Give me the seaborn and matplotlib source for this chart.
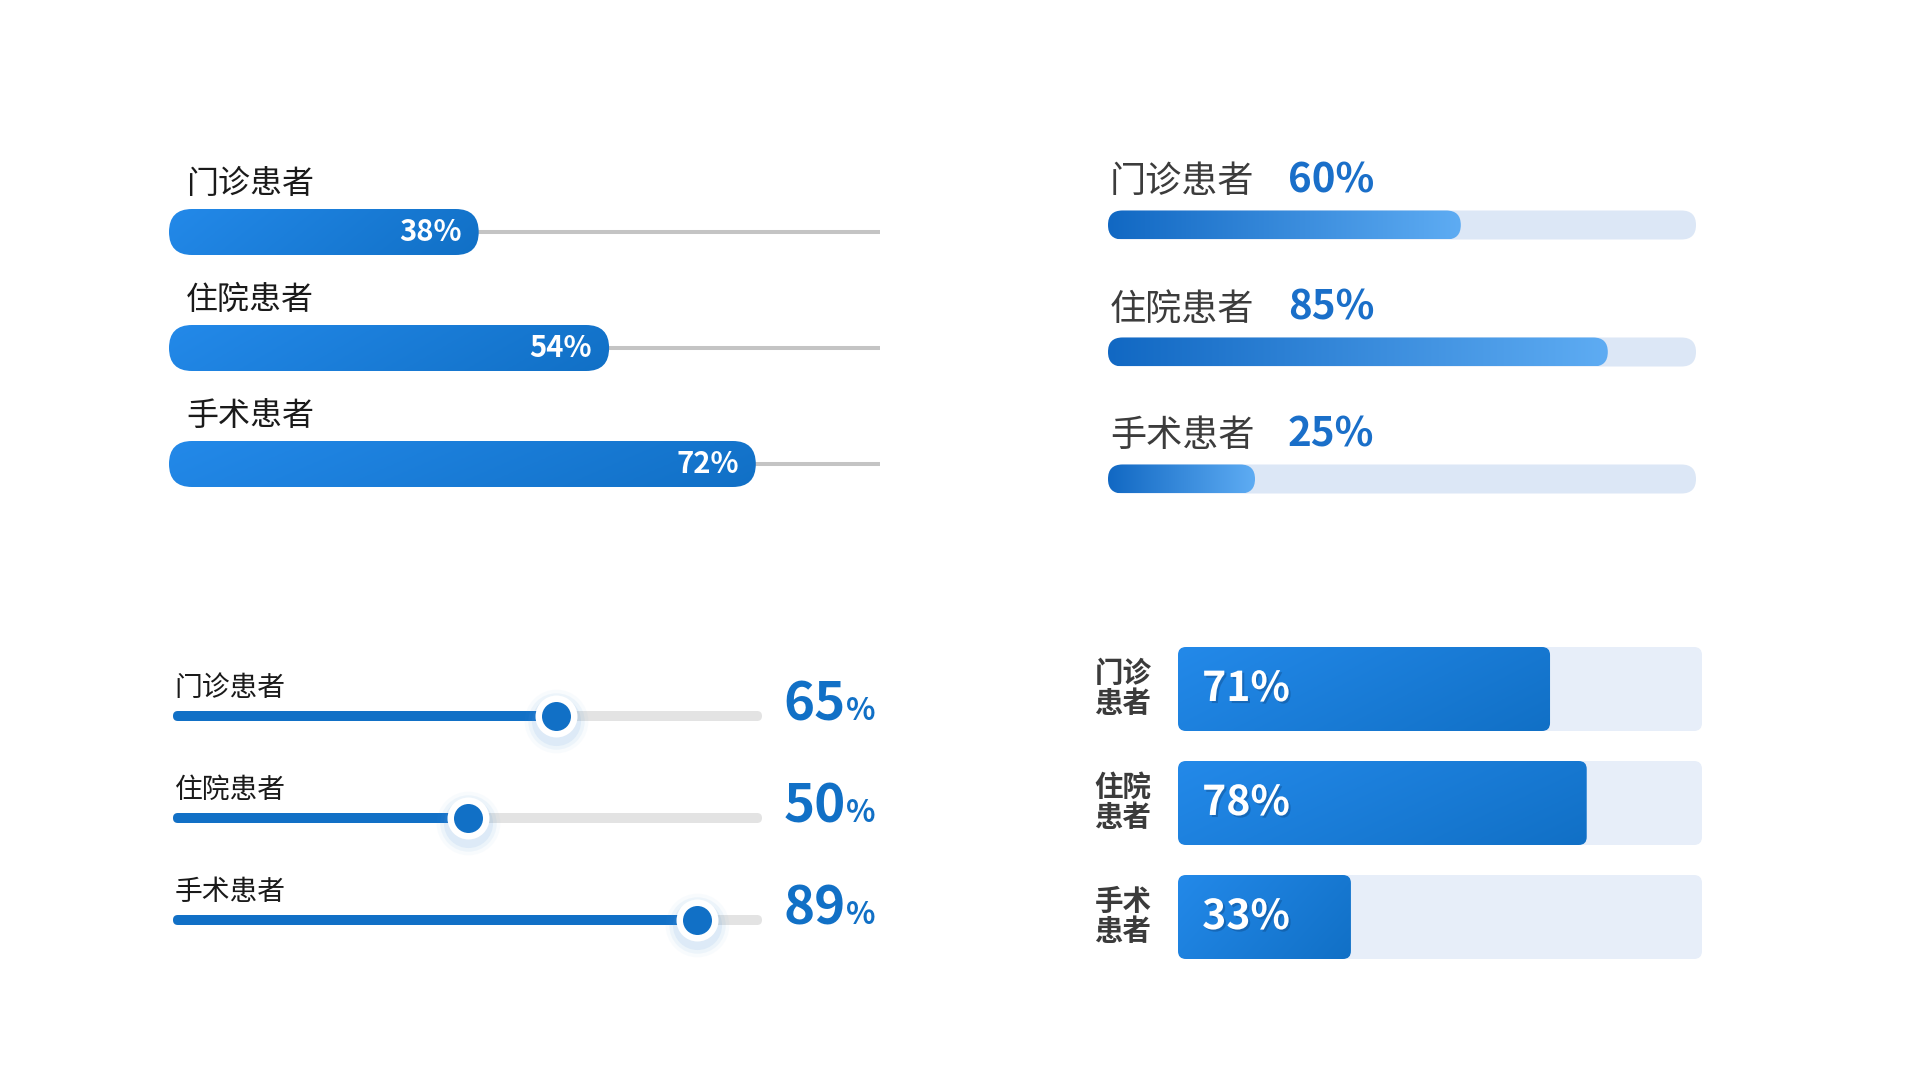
import numpy as np
import matplotlib
matplotlib.use('Agg')
from matplotlib import pyplot as plt
from matplotlib.patches import FancyBboxPatch
from matplotlib.colors import LinearSegmentedColormap
from matplotlib import patheffects as pe
import seaborn as sns

# data
categories = ['门诊患者', '住院患者', '手术患者']
short_labels = ['门诊\n患者', '住院\n患者', '手术\n患者']
p1_values = [38, 54, 72]
p2_values = [60, 85, 25]
p3_values = [65, 50, 89]
p4_values = [71, 78, 33]

sns.set_theme(style='white')
plt.rcParams['font.family'] = ['Noto Sans CJK SC', 'DejaVu Sans']

FW, FH = 1920, 1080
fig = plt.figure(figsize=(19.2, 10.8), dpi=100, facecolor='white')

cmap_a = LinearSegmentedColormap.from_list('a', ['#2389e9', '#1170c6'])
cmap_b = LinearSegmentedColormap.from_list('b', ['#1168c3', '#5eacf3'])


def panel_axes(x0, width, y_first, gap):
    # axes so that rows sit `gap` px apart, x from 0 to 100 %
    top = y_first - gap / 2
    height = 3 * gap
    ax = fig.add_axes([x0 / FW, 1 - (top + height) / FH, width / FW, height / FH])
    return ax, width / 100, gap


def draw_bars(ax, values, thick, **kw):
    before = list(ax.patches)
    sns.barplot(x=values, y=categories, orient='h', width=thick,
                errorbar=None, ax=ax, **kw)
    return [p for p in ax.patches if p not in before]


def round_it(ax, rect, r_px, px_x, px_y, color=None, cmap=None, diag=0.0, z=1):
    x, y, w, h = rect.get_x(), rect.get_y(), rect.get_width(), rect.get_height()
    rect.remove()
    patch = FancyBboxPatch((x, y), w, h,
                           boxstyle=f'round,pad=0,rounding_size={r_px / px_x}',
                           mutation_aspect=px_x / px_y,
                           fc=color if color else 'none', ec='none', zorder=z)
    ax.add_patch(patch)
    if cmap is not None:
        gx = np.linspace(0, 1, 256)[None, :]
        gy = np.linspace(0, 1, 32)[:, None]
        grad = (1 - diag) * gx + diag * gy
        im = ax.imshow(grad, extent=(x, x + w, y + h, y), cmap=cmap, vmin=0, vmax=1,
                       aspect='auto', interpolation='bilinear', zorder=z)
        im.set_clip_path(patch)
    return patch


def finish(ax):
    ax.set_xlim(0, 100)
    ax.set_ylim(2.5, -0.5)
    ax.axis('off')


# panel 1 - top left, pill bars with thin track
ax1, px_x, px_y = panel_axes(169, 815, 232, 116)
ax1.hlines(range(3), 0, 87.2, color='#c4c4c4', lw=2.9, zorder=0.5)
for rect in draw_bars(ax1, p1_values, 46 / 116, color='#1a7bd6'):
    round_it(ax1, rect, 23, px_x, px_y, cmap=cmap_a, diag=0.15)
for i, (lab, v) in enumerate(zip(categories, p1_values)):
    ax1.text(2.1, i - 0.415, lab, fontsize=23, color='#1a1a1a', va='center', ha='left')
    ax1.text(v - 2.1, i, f'{v}%', fontsize=21, fontweight='bold', color='white',
             va='center', ha='right', zorder=5)
finish(ax1)

# panel 2 - top right, light track with gradient fill
ax2, px_x, px_y = panel_axes(1108, 588, 225, 127)
for rect in draw_bars(ax2, [100] * 3, 29 / 127, color='#dce7f6'):
    round_it(ax2, rect, 14.5, px_x, px_y, color='#dce7f6', z=0.8)
for rect in draw_bars(ax2, p2_values, 29 / 127, color='#1a7bd6'):
    round_it(ax2, rect, 14.5, px_x, px_y, cmap=cmap_b)
for i, (lab, v) in enumerate(zip(categories, p2_values)):
    ax2.text(0.3, i - 0.335, lab, fontsize=26, color='#3c3c3c', va='center', ha='left')
    ax2.text(30.6, i - 0.345, f'{v}%', fontsize=29, fontweight='bold', color='#1a6fc9',
             va='center', ha='left')
finish(ax2)

# panel 3 - bottom left, sliders
ax3, px_x, px_y = panel_axes(173, 589, 716, 102)
for rect in draw_bars(ax3, [100] * 3, 10 / 102, color='#e3e3e3'):
    round_it(ax3, rect, 5, px_x, px_y, color='#e3e3e3', z=0.8)
for rect in draw_bars(ax3, p3_values, 10 / 102, color='#1170c6'):
    round_it(ax3, rect, 5, px_x, px_y, color='#1170c6')
ys = np.arange(3)
for s, a in [(2100, 0.04), (1650, 0.07), (1250, 0.10)]:
    ax3.scatter(p3_values, ys + 0.05, s=s, color='#5a9be0', alpha=a, lw=0, zorder=3)
ax3.scatter(p3_values, ys, s=914, color='white', lw=0, zorder=4)
ax3.scatter(p3_values, ys, s=436, color='#1170c6', lw=0, zorder=5)
for i, (lab, v) in enumerate(zip(categories, p3_values)):
    ax3.text(0.3, i - 0.275, lab, fontsize=20, color='#1a1a1a', va='center', ha='left')
    t = ax3.text(103.7, i - 0.11, f'{v}', fontsize=38, fontweight='bold',
                 color='#1170c6', va='center', ha='left')
    ax3.annotate('%', xy=(1, 0.08), xycoords=t, fontsize=22, fontweight='bold',
                 color='#1170c6', va='bottom', ha='left')
finish(ax3)

# panel 4 - bottom right, blocks
ax4, px_x, px_y = panel_axes(1178, 524, 689, 114)
for rect in draw_bars(ax4, [100] * 3, 84 / 114, color='#e7eef9'):
    round_it(ax4, rect, 8, px_x, px_y, color='#e7eef9', z=0.8)
for rect in draw_bars(ax4, p4_values, 84 / 114, color='#1a7bd6'):
    round_it(ax4, rect, 8, px_x, px_y, cmap=cmap_a, diag=0.3)
for i, (lab, v) in enumerate(zip(short_labels, p4_values)):
    ax4.text(-10.5, i, lab, fontsize=20.5, fontweight='bold', color='#3b3b3b',
             va='center', ha='center', multialignment='center', linespacing=1.12)
    ax4.text(4.6, i, f'{v}%', fontsize=29.5, fontweight='bold', color='white',
             va='center', ha='left', zorder=5,
             path_effects=[pe.withSimplePatchShadow(offset=(1.5, -1.5),
                                                    shadow_rgbFace='#0a3d75', alpha=0.35)])
finish(ax4)

fig.savefig('out.png', dpi=100, facecolor='white')
